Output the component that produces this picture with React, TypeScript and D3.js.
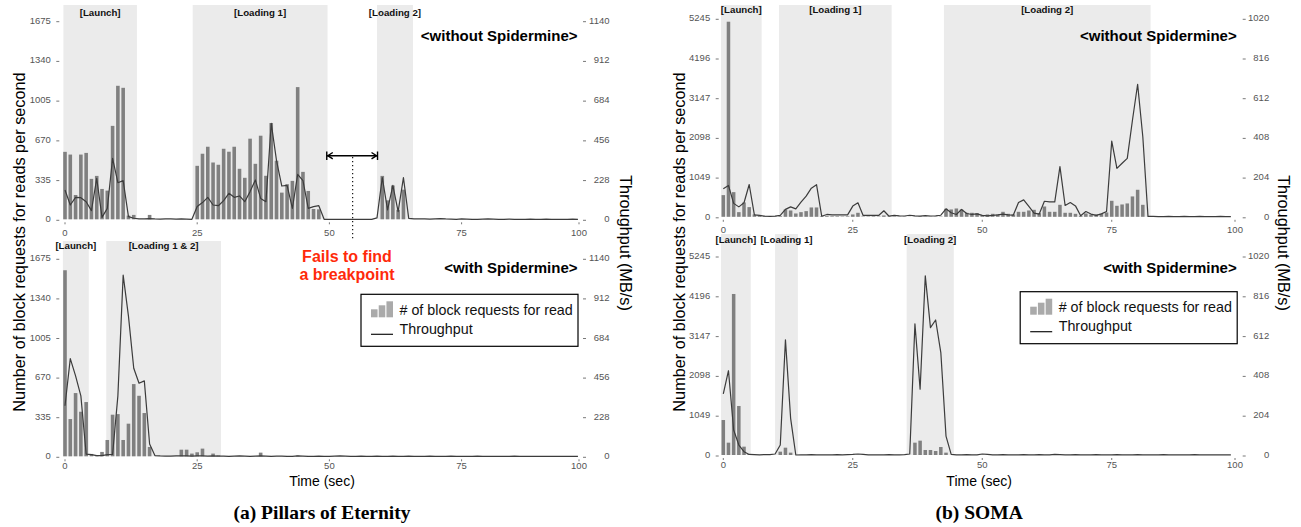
import React from 'react';
import * as d3 from 'd3';

// per-second samples, index = time (sec)
const poeWithoutReqs = [
  569, 546, 205, 546, 560, 341, 366, 256, 242, 788,
  1126, 1109, 31, 37, 0, 0, 37, 0, 0, 0,
  0, 0, 0, 0, 0, 451, 553, 612, 479, 460,
  595, 570, 612, 426, 350, 680, 468, 705, 367, 812,
  494, 225, 296, 324, 1115, 400, 239, 87, 84, 0,
  0, 0, 0, 0, 0, 0, 0, 0, 0, 0,
  366, 160, 285, 80, 250, 0, 0, 0, 0, 0,
  0, 0, 0, 0, 0, 0, 0, 0, 0, 0,
  0, 0, 0, 0, 0, 0, 0, 0, 0, 0,
  0, 0, 0, 0, 0, 0, 0, 0,
];
const poeWithoutTput = [
  168, 82, 126, 124, 101, 50, 235, 11, 63, 350,
  210, 222, 15, 6, 2, 2, 4, 2, 1, 3,
  2, 1, 2, 1, 0, 73, 96, 126, 82, 78,
  107, 149, 126, 134, 101, 159, 226, 120, 101, 551,
  337, 191, 195, 63, 258, 222, 63, 73, 78, 0,
  0, 0, 0, 0, 0, 0, 0, 0, 0, 8,
  239, 54, 195, 44, 239, 5, 2, 3, 2, 1,
  3, 4, 2, 1, 0, 2, 1, 0, 0, 1,
  2, 1, 0, 0, 1, 0, 0, 0, 1, 0,
  0, 1, 0, 0, 0, 0, 1, 0,
];
const poeWithReqs = [
  1574, 315, 535, 377, 459, 20, 5, 37, 138, 352,
  357, 138, 276, 611, 512, 366, 79, 0, 0, 0,
  0, 0, 56, 56, 23, 34, 65, 0, 23, 8,
  0, 0, 0, 0, 0, 0, 0, 31, 0, 0,
  0, 0, 0, 0, 6, 0, 0, 0, 0, 0,
  0, 0, 0, 0, 0, 0, 0, 0, 0, 0,
  0, 0, 0, 0, 0, 0, 0, 0, 0, 0,
  0, 0, 0, 0, 0, 0, 0, 0, 0, 0,
  0, 0, 0, 0, 0, 0, 0, 0, 0, 0,
  0, 0, 0, 0, 0, 0, 0, 0,
];
const poeWithTput = [
  291, 562, 463, 348, 13, 10, 4, 4, 10, 11,
  348, 1043, 807, 507, 421, 434, 71, 4, 2, 1,
  1, 2, 3, 2, 1, 3, 2, 1, 2, 1,
  1, 0, 1, 2, 1, 0, 1, 2, 1, 0,
  1, 1, 0, 0, 2, 1, 0, 0, 1, 0,
  0, 1, 2, 1, 0, 0, 1, 0, 0, 1,
  0, 0, 1, 0, 0, 1, 0, 0, 0, 1,
  0, 0, 0, 1, 0, 0, 0, 0, 1, 0,
  0, 0, 0, 0, 0, 1, 0, 0, 0, 0,
  0, 0, 0, 0, 0, 0, 0, 0,
];

const somaWithoutReqs = [
  573, 5155, 652, 123, 379, 256, 62, 35, 15, 10,
  10, 18, 194, 167, 88, 123, 150, 247, 247, 15,
  20, 15, 15, 10, 15, 62, 106, 10, 10, 15,
  10, 35, 8, 10, 5, 8, 5, 5, 10, 5,
  8, 5, 10, 212, 194, 220, 194, 106, 106, 97,
  44, 62, 79, 62, 132, 79, 62, 132, 132, 167,
  185, 97, 273, 132, 132, 317, 106, 106, 79, 26,
  88, 62, 62, 79, 115, 423, 291, 326, 353, 538,
  714, 317, 0, 0, 0, 0, 0, 0, 0, 0,
  0, 0, 0, 0, 0, 0, 0, 0, 0,
];
const somaWithoutTput = [
  144, 161, 69, 51, 72, 166, 10, 7, 3, 2,
  3, 7, 38, 51, 41, 75, 106, 147, 165, 3,
  12, 10, 10, 10, 10, 55, 72, 7, 7, 7,
  7, 31, 3, 7, 5, 4, 8, 5, 3, 6,
  4, 5, 8, 41, 21, 12, 38, 17, 12, 15,
  7, 5, 7, 10, 14, 10, 9, 73, 87, 53,
  19, 14, 80, 77, 77, 258, 58, 73, 56, 5,
  27, 14, 7, 15, 27, 389, 249, 275, 300, 496,
  681, 411, 2, 2, 1, 1, 2, 1, 1, 2,
  1, 1, 2, 1, 1, 1, 2, 1, 1,
];
const somaWithReqs = [
  922, 325, 4244, 1292, 220, 26, 0, 0, 0, 0,
  0, 88, 193, 62, 0, 0, 0, 0, 0, 0,
  0, 0, 0, 0, 0, 0, 0, 0, 0, 0,
  0, 0, 0, 0, 0, 0, 0, 325, 378, 132,
  132, 105, 211, 62, 0, 0, 0, 0, 0, 0,
  0, 0, 0, 0, 0, 0, 0, 0, 0, 0,
  0, 0, 0, 0, 0, 0, 0, 0, 0, 0,
  0, 0, 0, 0, 0, 0, 0, 0, 0, 0,
  0, 0, 0, 0, 0, 0, 0, 0, 0, 0,
  0, 0, 0, 0, 0, 0, 0, 0, 0,
];
const somaWithTput = [
  313, 432, 128, 51, 17, 3, 2, 1, 2, 2,
  5, 51, 590, 188, 0, 1, 1, 2, 1, 1,
  1, 1, 2, 1, 2, 3, 5, 3, 1, 1,
  1, 1, 2, 1, 1, 2, 5, 672, 337, 918,
  653, 692, 525, 97, 3, 1, 1, 2, 1, 1,
  5, 3, 1, 1, 2, 1, 1, 1, 2, 1,
  1, 2, 1, 1, 3, 2, 1, 1, 2, 1,
  1, 1, 2, 1, 1, 1, 2, 1, 1, 1,
  2, 1, 1, 1, 1, 2, 1, 1, 1, 1,
  1, 2, 1, 1, 1, 1, 1, 1, 1,
];

const poeReqTicks = [0, 335, 670, 1005, 1340, 1675];
const poeTputTicks = [0, 228, 456, 684, 912, 1140];
const somaReqTicks = [0, 1049, 2098, 3147, 4196, 5245];
const somaTputTicks = [0, 204, 408, 612, 816, 1020];
const timeTicks = [0, 25, 50, 75, 100];

// phases: [label, start sec, end sec]
const poeWithoutPhases: [string, number, number][] = [
  ['[Launch]', -0.3, 13.6], ['[Loading 1]', 24.15, 49.65], ['[Loading 2]', 59, 65.8],
];
const poeWithPhases: [string, number, number][] = [
  ['[Launch]', -0.4, 4.5], ['[Loading 1 & 2]', 7.8, 29.5],
];
const somaWithoutPhases: [string, number, number][] = [
  ['[Launch]', -0.44, 7.4], ['[Loading 1]', 10.75, 32.5], ['[Loading 2]', 42.6, 82.5],
];
const somaWithPhases: [string, number, number][] = [
  ['[Launch]', -0.44, 5.3], ['[Loading 1]', 10, 14.4], ['[Loading 2]', 35.4, 44.5],
];

const SANS = '"Liberation Sans", Arial, sans-serif';
const TICK_GREY = '#555';

function Panel(props: any) {
  const { x, xEnd, y0, y1, reqMax, tputMax, reqTicks, tputTicks, reqs, tput, phases,
    shadeTop, phaseY, note, noteY, noteX, lTickX, rTickX, xLabelDy } = props;
  const yReq = d3.scaleLinear().domain([0, reqMax]).range([y0, y1]);
  const yTp = d3.scaleLinear().domain([0, tputMax]).range([y0, y1]);
  const bw = (x(1) - x(0)) * 0.68;
  const line = d3.line<number>().x((_, i) => x(i)).y(d => yTp(d));
  const tickPos = (t: number) => x(t === 100 ? xEnd : t);
  return (
    <g>
      {phases.map(([label, a, b]: [string, number, number]) => (
        <rect key={label} x={x(a)} y={shadeTop} width={x(b) - x(a)} height={y0 - shadeTop} fill="#ebebeb" />
      ))}
      {phases.map(([label, a, b]: [string, number, number]) => (
        <text key={label + 't'} x={(x(a) + x(b)) / 2} y={phaseY} textAnchor="middle"
          fontFamily={SANS} fontWeight="bold" fontSize={9.7} fill="#111">{label}</text>
      ))}
      {reqs.map((v: number, i: number) => v > 0 && (
        <rect key={i} x={x(i) - bw / 2} y={yReq(v)} width={bw} height={y0 - yReq(v)} fill="#808080" />
      ))}
      <path d={line(tput) || ''} fill="none" stroke="#3c3c3c" strokeWidth={1.2} strokeLinejoin="round" />
      {reqTicks.map((t: number) => (
        <g key={'l' + t}>
          <line x1={lTickX - 3} x2={lTickX} y1={yReq(t) + 1} y2={yReq(t) + 1} stroke={TICK_GREY} strokeWidth={0.8} />
          <text x={lTickX - 8.5} y={yReq(t)} dy="0.32em" textAnchor="end" fontFamily={SANS}
            fontSize={9.5} fill={TICK_GREY}>{t}</text>
        </g>
      ))}
      {tputTicks.map((t: number) => (
        <g key={'r' + t}>
          <line x1={rTickX} x2={rTickX + 3} y1={yTp(t) + 1} y2={yTp(t) + 1} stroke={TICK_GREY} strokeWidth={0.8} />
          <text x={rTickX + 26.5} y={yTp(t)} dy="0.32em" textAnchor="end" fontFamily={SANS}
            fontSize={9.5} fill={TICK_GREY}>{t}</text>
        </g>
      ))}
      {timeTicks.map(t => (
        <g key={'x' + t}>
          <line x1={tickPos(t)} x2={tickPos(t)} y1={y0 + 3} y2={y0 + 5} stroke={TICK_GREY} strokeWidth={0.8} />
          <text x={tickPos(t)} y={y0 + xLabelDy} textAnchor="middle" fontFamily={SANS}
            fontSize={9.5} fill={TICK_GREY}>{t}</text>
        </g>
      ))}
      <text x={noteX} y={noteY} textAnchor="end" fontFamily={SANS} fontWeight="bold" fontSize={15} fill="#000">{note}</text>
    </g>
  );
}

function Legend({ x, y }: { x: number; y: number }) {
  const bars = [8, 12, 16];
  const bx = d3.scaleBand<number>().domain([0, 1, 2]).range([x + 10, x + 32]).paddingInner(0.15);
  return (
    <g>
      <rect x={x} y={y} width={217} height={52} fill="#fff" stroke="#000" strokeWidth={1.2} />
      {bars.map((h, i) => (
        <rect key={i} x={bx(i)} y={y + 23 - h} width={bx.bandwidth()} height={h} fill="#aaaaaa" />
      ))}
      <text x={x + 38.5} y={y + 20.5} fontFamily={SANS} fontSize={14.3} fill="#111">{'# of block requests for read'}</text>
      <line x1={x + 10} x2={x + 32} y1={y + 40} y2={y + 40} stroke="#111" strokeWidth={1.2} />
      <text x={x + 38.5} y={y + 39.5} fontFamily={SANS} fontSize={14.3} fill="#111">Throughput</text>
    </g>
  );
}

function Figure(props: any) {
  const { x0, x100, xEnd, top, bottom, reqMax, tputMax, reqTicks, tputTicks,
    withoutReqs, withoutTput, withReqs, withTput, withoutPhases, withPhases,
    lTickX, rTickX, leftTitleX, rightTitleX, caption, legendY, noteX } = props;
  const x = d3.scaleLinear().domain([0, xEnd]).range([x0, x100]);
  const cx = (x0 + x100) / 2;
  return (
    <g>
      <Panel x={x} xEnd={xEnd} y0={top.y0} y1={top.y1} reqMax={reqMax} tputMax={tputMax}
        reqTicks={reqTicks} tputTicks={tputTicks} reqs={withoutReqs} tput={withoutTput}
        phases={withoutPhases} shadeTop={5} phaseY={top.phaseY} xLabelDy={16.5}
        note="<without Spidermine>" noteY={41} noteX={noteX} lTickX={lTickX} rTickX={rTickX} />
      <Panel x={x} xEnd={xEnd} y0={bottom.y0} y1={bottom.y1} reqMax={reqMax} tputMax={tputMax}
        reqTicks={reqTicks} tputTicks={tputTicks} reqs={withReqs} tput={withTput}
        phases={withPhases} shadeTop={bottom.shadeTop} phaseY={bottom.phaseY} xLabelDy={12.5}
        note="<with Spidermine>" noteY={272.5} noteX={noteX} lTickX={lTickX} rTickX={rTickX} />
      <Legend x={noteX - 216.5} y={legendY} />
      <text transform={`translate(${leftTitleX},242) rotate(-90)`} textAnchor="middle"
        fontFamily={SANS} fontSize={16.3} fill="#000">Number of block requests for reads per second</text>
      <text transform={`translate(${rightTitleX},243) rotate(90)`} textAnchor="middle"
        fontFamily={SANS} fontSize={16.3} fill="#000">Throughput (MB/s)</text>
      <text x={cx} y={485.5} textAnchor="middle" fontFamily={SANS} fontSize={14} fill="#000">Time (sec)</text>
      <text x={cx} y={518.5} textAnchor="middle" fontFamily='"Liberation Serif", "Times New Roman", serif'
        fontWeight="bold" fontSize={19.5} fill="#000">{caption}</text>
    </g>
  );
}

export default function App() {
  const poeX = d3.scaleLinear().domain([0, 97.2]).range([65, 579]);
  return (
    <svg width={1301} height={527} style={{ position: 'absolute', left: 0, top: 0, background: '#fff' }}>
      <Figure x0={65} x100={579} xEnd={97.2}
        top={{ y0: 219.3, y1: 20.7, phaseY: 16 }}
        bottom={{ y0: 456.3, y1: 258.3, shadeTop: 241, phaseY: 249 }}
        reqMax={1675} tputMax={1140} reqTicks={poeReqTicks} tputTicks={poeTputTicks}
        withoutReqs={poeWithoutReqs} withoutTput={poeWithoutTput}
        withReqs={poeWithReqs} withTput={poeWithTput}
        withoutPhases={poeWithoutPhases} withPhases={poeWithPhases}
        lTickX={59.3} rTickX={583} leftTitleX={24.5} rightTitleX={620}
        caption="(a) Pillars of Eternity" legendY={294.3} noteX={577.5} />
      <Figure x0={723.3} x100={1235} xEnd={98.8}
        top={{ y0: 216.8, y1: 18.3, phaseY: 12.5 }}
        bottom={{ y0: 455, y1: 256, shadeTop: 234, phaseY: 242.5 }}
        reqMax={5245} tputMax={1020} reqTicks={somaReqTicks} tputTicks={somaTputTicks}
        withoutReqs={somaWithoutReqs} withoutTput={somaWithoutTput}
        withReqs={somaWithReqs} withTput={somaWithTput}
        withoutPhases={somaWithoutPhases} withPhases={somaWithPhases}
        lTickX={718.7} rTickX={1242.7} leftTitleX={684.5} rightTitleX={1278}
        caption="(b) SOMA" legendY={291.7} noteX={1236.7} />
      {/* breakpoint search gap in the upper Pillars of Eternity run */}
      <g stroke="#000" strokeWidth={1.4} fill="none">
        <line x1={poeX(49.5)} x2={poeX(59.1)} y1={155.7} y2={155.7} />
        <line x1={poeX(49.5)} x2={poeX(49.5)} y1={151.5} y2={160} />
        <line x1={poeX(59.1)} x2={poeX(59.1)} y1={151.5} y2={160} />
        <path d={`M${poeX(49.5) + 6},${152.5} L${poeX(49.5) + 1},${155.7} L${poeX(49.5) + 6},${158.9}`} />
        <path d={`M${poeX(59.1) - 6},${152.5} L${poeX(59.1) - 1},${155.7} L${poeX(59.1) - 6},${158.9}`} />
      </g>
      <line x1={poeX(54.4)} x2={poeX(54.4)} y1={157} y2={240} stroke="#000" strokeWidth={1.1} strokeDasharray="1.3,2.7" />
      <text x={347} y={261.5} textAnchor="middle" fontFamily={SANS} fontWeight="bold" fontSize={16} fill="#ff2a0a">Fails to find</text>
      <text x={347} y={280} textAnchor="middle" fontFamily={SANS} fontWeight="bold" fontSize={16} fill="#ff2a0a">a breakpoint</text>
    </svg>
  );
}
